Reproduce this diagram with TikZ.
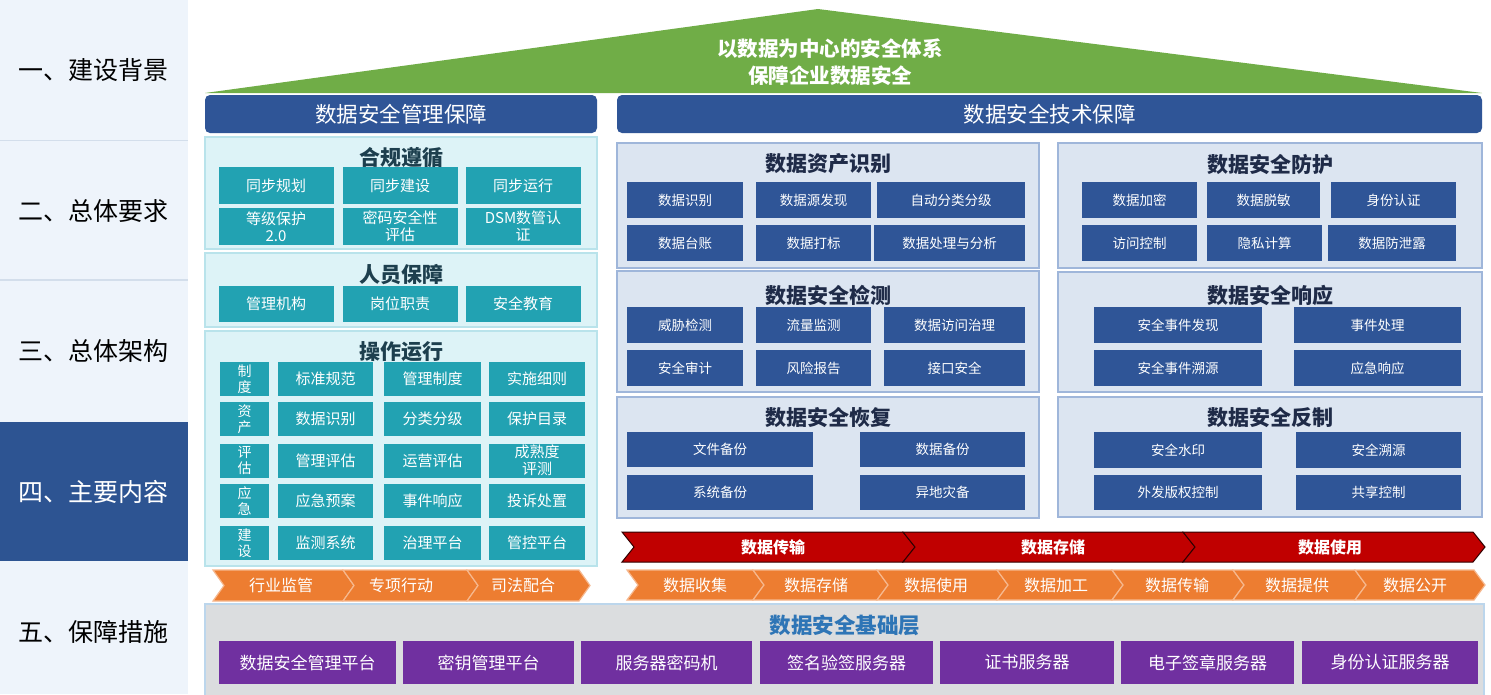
\documentclass[tikz,border=0pt]{standalone}
\usepackage{fontspec}
\setmainfont{Noto Sans CJK SC}
\definecolor{sidebg}{HTML}{EEF4FB}
\definecolor{sideline}{HTML}{D3DEEB}
\definecolor{sidesel}{HTML}{2D5492}
\definecolor{roofg}{HTML}{70AD47}
\definecolor{navy}{HTML}{2F5597}
\definecolor{cyanbg}{HTML}{DDF3F7}
\definecolor{cyanln}{HTML}{B9E3EB}
\definecolor{tealb}{HTML}{22A2B2}
\definecolor{tealt}{HTML}{1D3F4E}
\definecolor{bluebg}{HTML}{DCE5F1}
\definecolor{blueln}{HTML}{9FB6DA}
\definecolor{navyt}{HTML}{1F2B48}
\definecolor{redb}{HTML}{C00000}
\definecolor{oran}{HTML}{ED7D31}
\definecolor{oranln}{HTML}{F6B88E}
\definecolor{greybg}{HTML}{DBDDDF}
\definecolor{greyln}{HTML}{BCD6EC}
\definecolor{basettl}{HTML}{2E75B6}
\definecolor{purp}{HTML}{7030A0}
\begin{document}
\begin{tikzpicture}[x=1pt,y=-1pt,
 sidetxt/.style={font=\fontsize{25}{27}\selectfont,inner sep=0},
 btn/.style={inner sep=0,align=center,text=white},
 tbtn/.style={btn,fill=tealb,font=\fontsize{15}{17}\selectfont,minimum width=115,minimum height=37},
 obtn/.style={btn,fill=tealb,font=\fontsize{15}{17}\selectfont,minimum height=34},
 vbtn/.style={btn,fill=tealb,font=\fontsize{14}{16}\selectfont,minimum width=49,minimum height=34},
 bbtn/.style={btn,fill=navy,font=\fontsize{13.5}{16}\selectfont,minimum height=36},
 pbtn/.style={btn,fill=purp,font=\fontsize{17}{19}\selectfont,minimum height=43},
 cpnl/.style={fill=cyanbg,draw=cyanln,line width=1.5,inner sep=0,minimum width=392},
 bpnl/.style={fill=bluebg,draw=blueln,line width=1.5,inner sep=0},
 ctitle/.style={font=\bfseries\fontsize{21}{23}\selectfont,text=tealt,inner sep=0},
 btitle/.style={font=\bfseries\fontsize{21}{23}\selectfont,text=navyt,inner sep=0},
 hdr/.style={fill=navy,rounded corners=5,text=white,font=\fontsize{21.5}{23}\selectfont,minimum height=38,inner sep=0},
 rooftxt/.style={text=white,font=\bfseries\fontsize{20.5}{22}\selectfont,inner sep=0},
 rchev/.style={fill=redb,draw=black!75!redb,line width=1},
 ochev/.style={fill=oran,draw=oranln,line width=1.2},
 rtxt/.style={text=white,font=\bfseries\fontsize{16}{18}\selectfont,inner sep=0},
 otxt/.style={text=white,font=\fontsize{16}{18}\selectfont,inner sep=0}]
\useasboundingbox (0,0) rectangle (1491,694);
\fill[white] (0,0) rectangle (1491,694);

\fill[sidebg] (0,0) rectangle (188,694);
\draw[sideline] (0,140) -- (188,140);
\draw[sideline,line width=1.5] (0,280) -- (188,280);
\fill[sidesel] (0,422) rectangle (188,561);
\node[sidetxt] (s1) at (93,70) {一、建设背景};
\node[sidetxt] (s2) at (93,211) {二、总体要求};
\node[sidetxt] (s3) at (93,351) {三、总体架构};
\node[sidetxt,text=white] (s4) at (93,492) {四、主要内容};
\node[sidetxt] (s5) at (93,632) {五、保障措施};

\fill[roofg] (205,93) -- (818,9) -- (1482,93) -- cycle;
\node[rooftxt] (roof1) at (830,49) {以数据为中心的安全体系};
\node[rooftxt] (roof2) at (830,76) {保障企业数据安全};
\node[hdr,minimum width=392] (hL) at (401,114) {数据安全管理保障};
\node[hdr,minimum width=865] (hR) at (1049.5,114) {数据安全技术保障};

\node[cpnl,minimum height=112] (pc) at (401,193) {};
\node[ctitle] (tc) at (401,158) {合规遵循};
\node[tbtn] (c11) at (276,185.5) {同步规划};
\node[tbtn] (c12) at (400,185.5) {同步建设};
\node[tbtn] (c13) at (523,185.5) {同步运行};
\node[tbtn] (c21) at (276,226.5) {等级保护\\2.0};
\node[tbtn] (c22) at (400,226.5) {密码安全性\\评估};
\node[tbtn] (c23) at (523,226.5) {DSM数管认\\证};

\node[cpnl,minimum height=74] (pp) at (401,290) {};
\node[ctitle] (tp) at (401,275) {人员保障};
\node[tbtn,minimum height=36] (p1) at (276,304) {管理机构};
\node[tbtn,minimum height=36] (p2) at (400,304) {岗位职责};
\node[tbtn,minimum height=36] (p3) at (523,304) {安全教育};

\node[cpnl,minimum height=235] (po) at (401,448.5) {};
\node[ctitle] (to) at (401,352) {操作运行};
\node[vbtn] (o10) at (244.5,379) {制\\度};
\node[obtn,minimum width=95] (o11) at (325.5,379) {标准规范};
\node[obtn,minimum width=97] (o12) at (432.5,379) {管理制度};
\node[obtn,minimum width=96] (o13) at (537,379) {实施细则};
\node[vbtn] (o20) at (244.5,419) {资\\产};
\node[obtn,minimum width=95] (o21) at (325.5,419) {数据识别};
\node[obtn,minimum width=97] (o22) at (432.5,419) {分类分级};
\node[obtn,minimum width=96] (o23) at (537,419) {保护目录};
\node[vbtn] (o30) at (244.5,460.5) {评\\估};
\node[obtn,minimum width=95] (o31) at (325.5,460.5) {管理评估};
\node[obtn,minimum width=97] (o32) at (432.5,460.5) {运营评估};
\node[obtn,minimum width=96] (o33) at (537,460.5) {成熟度\\评测};
\node[vbtn] (o40) at (244.5,501) {应\\急};
\node[obtn,minimum width=95] (o41) at (325.5,501) {应急预案};
\node[obtn,minimum width=97] (o42) at (432.5,501) {事件响应};
\node[obtn,minimum width=96] (o43) at (537,501) {投诉处置};
\node[vbtn] (o50) at (244.5,543) {建\\设};
\node[obtn,minimum width=95] (o51) at (325.5,543) {监测系统};
\node[obtn,minimum width=97] (o52) at (432.5,543) {治理平台};
\node[obtn,minimum width=96] (o53) at (537,543) {管控平台};

\node[bpnl,minimum width=422,minimum height=125] (pa) at (828,205.5) {};
\node[btitle] (ta) at (828,164) {数据资产识别};
\node[bbtn,minimum width=116] (a11) at (685,200) {数据识别};
\node[bbtn,minimum width=115] (a12) at (813.5,200) {数据源发现};
\node[bbtn,minimum width=148] (a13) at (951,200) {自动分类分级};
\node[bbtn,minimum width=116] (a21) at (685,243) {数据台账};
\node[bbtn,minimum width=115] (a22) at (813.5,243) {数据打标};
\node[bbtn,minimum width=151] (a23) at (949.5,243) {数据处理与分析};

\node[bpnl,minimum width=422,minimum height=121] (pd) at (828,331.5) {};
\node[btitle] (td) at (828,295) {数据安全检测};
\node[bbtn,minimum width=116] (d11) at (685,325) {威胁检测};
\node[bbtn,minimum width=115] (d12) at (813.5,325) {流量监测};
\node[bbtn,minimum width=141] (d13) at (954.5,325) {数据访问治理};
\node[bbtn,minimum width=116] (d21) at (685,368) {安全审计};
\node[bbtn,minimum width=115] (d22) at (813.5,368) {风险报告};
\node[bbtn,minimum width=141] (d23) at (954.5,368) {接口安全};

\node[bpnl,minimum width=422,minimum height=121] (pr) at (828,457.5) {};
\node[btitle] (tr) at (828,418) {数据安全恢复};
\node[bbtn,minimum width=186,minimum height=35] (r11) at (720,449.5) {文件备份};
\node[bbtn,minimum width=165,minimum height=35] (r12) at (942.5,449.5) {数据备份};
\node[bbtn,minimum width=186,minimum height=35] (r21) at (720,492.5) {系统备份};
\node[bbtn,minimum width=165,minimum height=35] (r22) at (942.5,492.5) {异地灾备};

\node[bpnl,minimum width=424,minimum height=125] (pf) at (1270,205.5) {};
\node[btitle] (tf) at (1270,164) {数据安全防护};
\node[bbtn,minimum width=115] (f11) at (1139.5,200) {数据加密};
\node[bbtn,minimum width=113] (f12) at (1263.5,200) {数据脱敏};
\node[bbtn,minimum width=125] (f13) at (1393.5,200) {身份认证};
\node[bbtn,minimum width=115] (f21) at (1139.5,243) {访问控制};
\node[bbtn,minimum width=115] (f22) at (1264.5,243) {隐私计算};
\node[bbtn,minimum width=128] (f23) at (1392,243) {数据防泄露};

\node[bpnl,minimum width=424,minimum height=120] (px) at (1270,332) {};
\node[btitle] (tx) at (1270,295) {数据安全响应};
\node[bbtn,minimum width=168] (x11) at (1178,325) {安全事件发现};
\node[bbtn,minimum width=167] (x12) at (1377.5,325) {事件处理};
\node[bbtn,minimum width=168] (x21) at (1178,368) {安全事件溯源};
\node[bbtn,minimum width=167] (x22) at (1377.5,368) {应急响应};

\node[bpnl,minimum width=424,minimum height=120] (pz) at (1270,457) {};
\node[btitle] (tz) at (1270,418) {数据安全反制};
\node[bbtn,minimum width=168] (z11) at (1178,450) {安全水印};
\node[bbtn,minimum width=165] (z12) at (1378.5,450) {安全溯源};
\node[bbtn,minimum width=168,minimum height=35] (z21) at (1178,492.5) {外发版权控制};
\node[bbtn,minimum width=165,minimum height=35] (z22) at (1378.5,492.5) {共享控制};

\filldraw[rchev] (622,532) -- (903,532) -- (915,547) -- (903,562) -- (622,562) -- (634,547) -- cycle;
\filldraw[rchev] (903,532) -- (1183,532) -- (1195,547) -- (1183,562) -- (903,562) -- (915,547) -- cycle;
\filldraw[rchev] (1183,532) -- (1473,532) -- (1485,547) -- (1473,562) -- (1183,562) -- (1195,547) -- cycle;
\node[rtxt] (l1) at (773,547) {数据传输};
\node[rtxt] (l2) at (1053,547) {数据存储};
\node[rtxt] (l3) at (1330,547) {数据使用};

\filldraw[ochev] (213,570) -- (343,570) -- (354,585.5) -- (343,601) -- (213,601) -- (224,585.5) -- cycle;
\filldraw[ochev] (343,570) -- (467,570) -- (478,585.5) -- (467,601) -- (343,601) -- (354,585.5) -- cycle;
\filldraw[ochev] (467,570) -- (579,570) -- (590,585.5) -- (579,601) -- (467,601) -- (478,585.5) -- cycle;
\node[otxt] (g1) at (281,585.5) {行业监管};
\node[otxt] (g2) at (401,585.5) {专项行动};
\node[otxt] (g3) at (523,585.5) {司法配合};

\filldraw[ochev] (627,570) -- (753,570) -- (764,585) -- (753,600) -- (627,600) -- (638,585) -- cycle;
\filldraw[ochev] (753,570) -- (877,570) -- (888,585) -- (877,600) -- (753,600) -- (764,585) -- cycle;
\filldraw[ochev] (877,570) -- (997,570) -- (1008,585) -- (997,600) -- (877,600) -- (888,585) -- cycle;
\filldraw[ochev] (997,570) -- (1112,570) -- (1123,585) -- (1112,600) -- (997,600) -- (1008,585) -- cycle;
\filldraw[ochev] (1112,570) -- (1233,570) -- (1244,585) -- (1233,600) -- (1112,600) -- (1123,585) -- cycle;
\filldraw[ochev] (1233,570) -- (1355,570) -- (1366,585) -- (1355,600) -- (1233,600) -- (1244,585) -- cycle;
\filldraw[ochev] (1355,570) -- (1474,570) -- (1485,585) -- (1474,600) -- (1355,600) -- (1366,585) -- cycle;
\node[otxt] (k1) at (695,585) {数据收集};
\node[otxt] (k2) at (816,585) {数据存储};
\node[otxt] (k3) at (936,585) {数据使用};
\node[otxt] (k4) at (1056,585) {数据加工};
\node[otxt] (k5) at (1177,585) {数据传输};
\node[otxt] (k6) at (1297,585) {数据提供};
\node[otxt] (k7) at (1415,585) {数据公开};

\node[fill=greybg,draw=greyln,line width=1.5,inner sep=0,minimum width=1279,minimum height=92] (pb) at (844.5,650) {};
\node[font=\bfseries\fontsize{21.5}{23}\selectfont,text=basettl,inner sep=0] (tb) at (845,625) {数据安全基础层};
\node[pbtn,minimum width=177] (b1) at (307.5,662.5) {数据安全管理平台};
\node[pbtn,minimum width=171] (b2) at (488.5,662.5) {密钥管理平台};
\node[pbtn,minimum width=171] (b3) at (666.5,662.5) {服务器密码机};
\node[pbtn,minimum width=173] (b4) at (846.5,662.5) {签名验签服务器};
\node[pbtn,minimum width=174] (b5) at (1027,662.5) {证书服务器};
\node[pbtn,minimum width=173] (b6) at (1207.5,662.5) {电子签章服务器};
\node[pbtn,minimum width=176] (b7) at (1390,662.5) {身份认证服务器};
\end{tikzpicture}
\end{document}
